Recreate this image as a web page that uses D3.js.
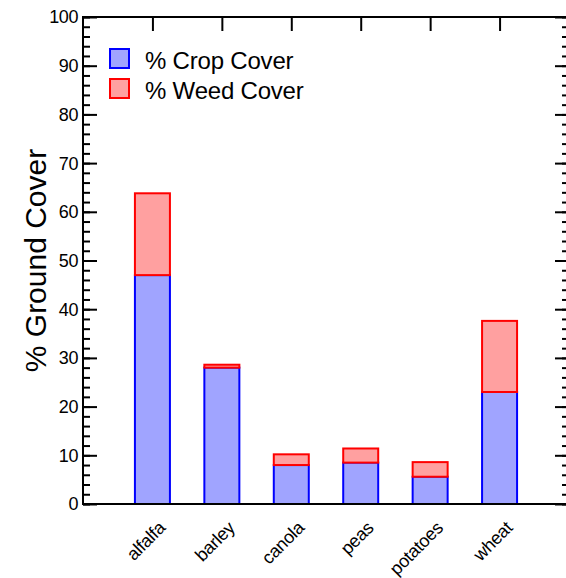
<!DOCTYPE html>
<html>
<head>
<meta charset="utf-8">
<script src="https://cdn.jsdelivr.net/npm/d3@7"></script>
<style>
  body { margin: 0; background: #fff; }
  svg { display: block; font-family: "Liberation Sans", Arial, sans-serif; }
</style>
</head>
<body>
<svg width="566" height="578"></svg>
<script>
// Chart data
const crops = ["alfalfa", "barley", "canola", "peas", "potatoes", "wheat"];
const cropCover = [47.0, 28.0, 8.0, 8.5, 5.6, 23.0];
const weedCover = [16.8, 0.6, 2.2, 2.9, 3.0, 14.6];
const seriesNames = ["% Crop Cover", "% Weed Cover"];
const yTicks = [0, 10, 20, 30, 40, 50, 60, 70, 80, 90, 100];

const svg = d3.select("svg");

// Plot box (right edge falls just past the window)
const plotL = 83, plotR = 569, plotT = 17, plotB = 504;

const x = d3.scalePoint()
    .domain(crops)
    .range([plotL, plotR])
    .padding(1);

const y = d3.scaleLinear()
    .domain([0, 100])
    .range([plotB, plotT]);

const barW = 35;
const colors = [
    { fill: "#a0a4ff", stroke: "#0000ff" },
    { fill: "#ffa0a0", stroke: "#ff0000" }
];

// Stacked bars
const stacked = crops.map((c, i) => ({
    name: c,
    segs: [
        { y0: 0, y1: cropCover[i], s: 0 },
        { y0: cropCover[i], y1: cropCover[i] + weedCover[i], s: 1 }
    ]
}));

const barG = svg.append("g");
stacked.forEach(d => {
    d.segs.forEach(seg => {
        barG.append("rect")
            .attr("x", x(d.name) - barW / 2)
            .attr("y", y(seg.y1))
            .attr("width", barW)
            .attr("height", y(seg.y0) - y(seg.y1))
            .attr("fill", colors[seg.s].fill)
            .attr("stroke", colors[seg.s].stroke)
            .attr("stroke-width", 2);
    });
});

// Axes
const minor = d3.range(0, 101, 2);

function tickAxis(axis, pos, values, size) {
    svg.append("g")
        .attr("transform", pos)
        .call(axis.tickValues(values).tickSize(size).tickFormat(""))
        .call(g => g.select(".domain").remove())
        .call(g => g.selectAll("line").attr("stroke-width", 2));
}

// left and right axes, ticks pointing inward
tickAxis(d3.axisRight(y), `translate(${plotL},0)`, minor, 7);
tickAxis(d3.axisRight(y), `translate(${plotL},0)`, yTicks, 14);
tickAxis(d3.axisLeft(y), `translate(${plotR},0)`, minor, 7);
tickAxis(d3.axisLeft(y), `translate(${plotR},0)`, yTicks, 14);

// top axis ticks at categories
tickAxis(d3.axisBottom(x), `translate(0,${plotT})`, crops, 14);

// tick labels
svg.append("g")
    .selectAll("text")
    .data(yTicks)
    .enter()
    .append("text")
    .attr("x", plotL - 5)
    .attr("y", d => y(d))
    .attr("dy", "0.36em")
    .attr("text-anchor", "end")
    .attr("font-size", "18px")
    .attr("letter-spacing", "-0.4px")
    .text(d => d);

// frame lines
svg.append("path")
    .attr("d", `M${plotL},${plotT}V${plotB}H${plotR}V${plotT}Z`)
    .attr("fill", "none")
    .attr("stroke", "#000")
    .attr("stroke-width", 2);

// x labels, rotated
svg.append("g")
    .selectAll("text")
    .data(crops)
    .enter()
    .append("text")
    .attr("transform", d => `translate(${x(d) + 14},${plotB + 25}) rotate(-45)`)
    .attr("text-anchor", "end")
    .attr("font-size", "18px")
    .attr("letter-spacing", "-0.3px")
    .text(d => d);

// y axis title
svg.append("text")
    .attr("transform", `translate(46,${(plotT + plotB) / 2}) rotate(-90)`)
    .attr("text-anchor", "middle")
    .attr("font-size", "30px")
    .text("% Ground Cover");

// legend
const legend = svg.append("g");
seriesNames.forEach((name, i) => {
    legend.append("rect")
        .attr("x", 110)
        .attr("y", 49 + i * 30)
        .attr("width", 19)
        .attr("height", 19)
        .attr("fill", colors[i].fill)
        .attr("stroke", colors[i].stroke)
        .attr("stroke-width", 2);
    legend.append("text")
        .attr("x", 145)
        .attr("y", 69 + i * 30)
        .attr("font-size", "24px")
        .attr("letter-spacing", "-0.2px")
        .text(name);
});
</script>
</body>
</html>
